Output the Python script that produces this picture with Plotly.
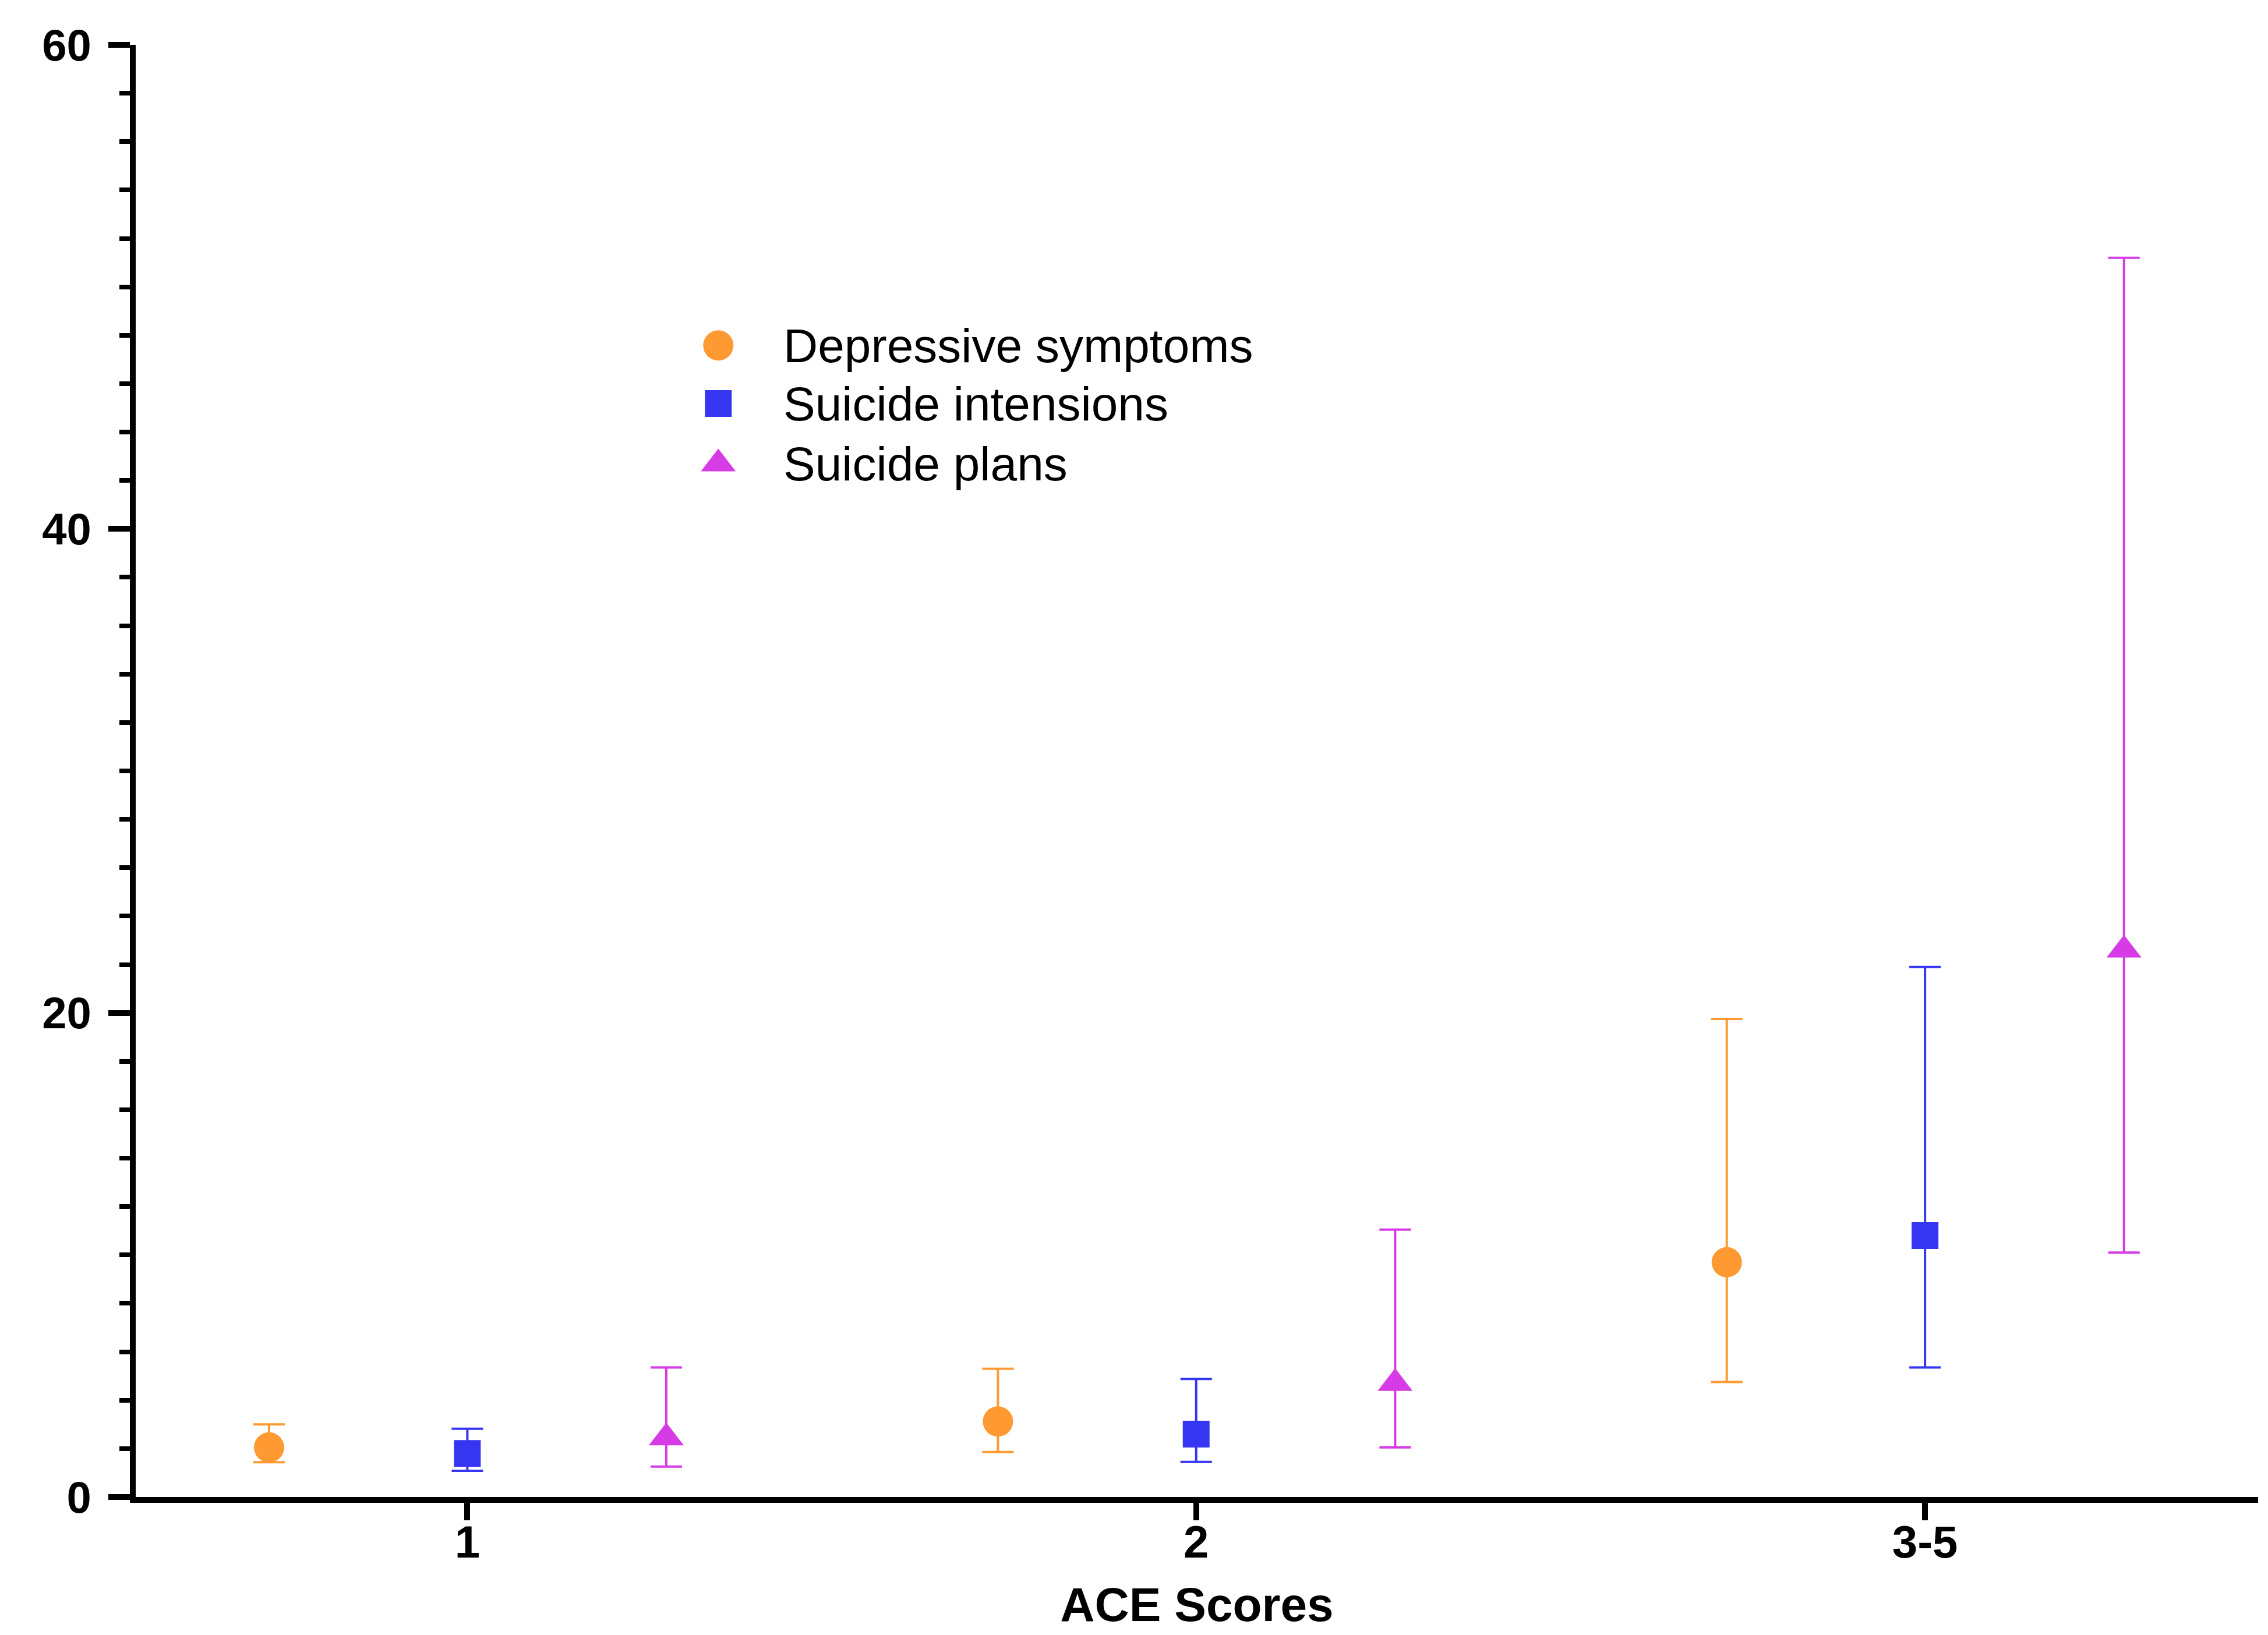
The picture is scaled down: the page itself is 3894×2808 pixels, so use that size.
import plotly.graph_objects as go

# ---- data ----
categories = ["1", "2", "3-5"]
series_names = ["Depressive symptoms", "Suicide intensions", "Suicide plans"]

dep_val = [2.05, 3.12, 9.7]
dep_lo = [1.44, 1.86, 4.75]
dep_hi = [3.0, 5.3, 19.75]

int_val = [1.8, 2.6, 10.8]
int_lo = [1.08, 1.45, 5.35]
int_hi = [2.82, 4.88, 21.9]

plan_val = [2.45, 4.7, 22.6]
plan_lo = [1.26, 2.05, 10.1]
plan_hi = [5.35, 11.05, 51.2]

colors = ["#FF9A33", "#3636F2", "#D63BE6"]
symbols = ["circle", "square", "triangle-up"]
sizes = [52, 46, 52]
offsets = [-0.272, 0.0, 0.273]

W, H = 3894, 2808
ML, MR, MT, MB = 225, 25, 69, 245

fig = go.Figure()

all_series = [
    (dep_val, dep_lo, dep_hi),
    (int_val, int_lo, int_hi),
    (plan_val, plan_lo, plan_hi),
]
for i, (vals, lo, hi) in enumerate(all_series):
    xs = [k + offsets[i] for k in range(len(categories))]
    fig.add_trace(go.Scatter(
        x=xs, y=vals, mode="markers", name=series_names[i], showlegend=False,
        marker=dict(symbol=symbols[i], size=sizes[i], color=colors[i], line=dict(width=0)),
        error_y=dict(type="data", symmetric=False,
                     array=[h - v for h, v in zip(hi, vals)],
                     arrayminus=[v - l for v, l in zip(vals, lo)],
                     color=colors[i], thickness=4, width=27),
    ))

# ---- custom legend (overlay axes in unit coordinates) ----
leg_x_marker = 0.2745
leg_x_text = 0.3045
leg_rows = [0.793, 0.753, 0.7115]
for i in range(3):
    fig.add_trace(go.Scatter(
        x=[leg_x_marker], y=[leg_rows[i]], mode="markers", showlegend=False,
        xaxis="x2", yaxis="y2", hoverinfo="skip",
        marker=dict(symbol=symbols[i], size=sizes[i], color=colors[i], line=dict(width=0)),
    ))
    fig.add_annotation(x=leg_x_text, y=leg_rows[i], xref="x2", yref="y2",
                       text=series_names[i], showarrow=False, xanchor="left", yanchor="middle",
                       font=dict(family="Liberation Sans", size=82, color="black"))

fig.update_layout(
    width=W, height=H,
    margin=dict(l=ML, r=MR, t=MT, b=MB),
    paper_bgcolor="white", plot_bgcolor="white",
    font=dict(family="Liberation Sans", color="black"),
    xaxis=dict(
        range=[-0.455, 2.457], tickmode="array", tickvals=[0, 1, 2], ticktext=categories,
        showline=True, linecolor="black", linewidth=10, ticks="outside", ticklen=30, tickwidth=10,
        tickcolor="black", showgrid=False, zeroline=False, ticklabelstandoff=-30,
        tickfont=dict(family="Liberation Sans", size=78, weight="bold", color="black"),
        title=dict(text="ACE Scores", standoff=40,
                   font=dict(family="Liberation Sans", size=82, weight="bold", color="black")),
    ),
    yaxis=dict(
        range=[0, 60], tickmode="array", tickvals=[0, 20, 40, 60],
        showline=True, linecolor="black", linewidth=10, ticks="outside", ticklen=37, tickwidth=10,
        tickcolor="black", showgrid=False, zeroline=False, ticklabelstandoff=14,
        minor=dict(dtick=2, ticks="outside", ticklen=18, tickwidth=8, tickcolor="black", showgrid=False),
        tickfont=dict(family="Liberation Sans", size=76, weight="bold", color="black"),
    ),
    xaxis2=dict(overlaying="x", range=[0, 1], visible=False, fixedrange=True),
    yaxis2=dict(overlaying="y", range=[0, 1], visible=False, fixedrange=True),
)

fig.write_html("out.html")
